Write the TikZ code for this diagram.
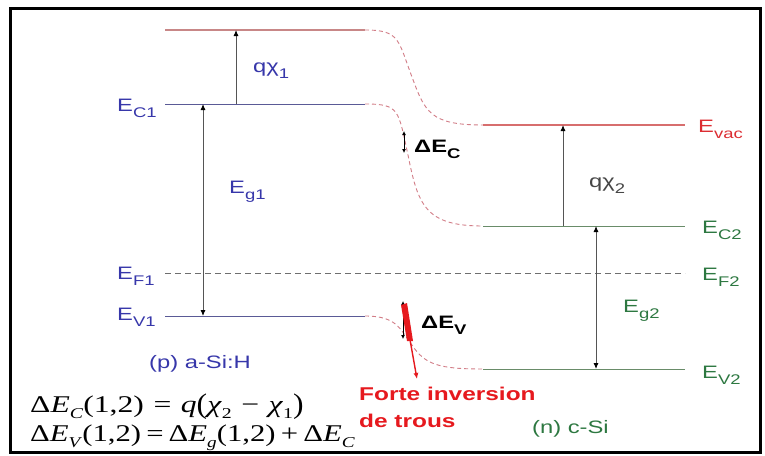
\documentclass[tikz,border=0pt]{standalone}
\usepackage{fontspec}
\usepackage{graphicx}
\setmainfont{Liberation Sans}
\newfontfamily\eqfont{Liberation Serif}
\usetikzlibrary{arrows.meta}
\definecolor{lblblue}{RGB}{55,55,170}
\definecolor{lblgreen}{RGB}{45,120,65}
\definecolor{lblred}{RGB}{220,45,50}
\definecolor{lblgray}{RGB}{70,70,70}
\definecolor{linblue}{RGB}{90,90,150}
\definecolor{lingreen}{RGB}{105,140,105}
\definecolor{linvac1}{RGB}{200,135,135}
\definecolor{linvac2}{RGB}{215,110,110}
\definecolor{curvecol}{RGB}{210,125,135}
\definecolor{fermicol}{RGB}{110,110,110}
\definecolor{arrcol}{RGB}{85,85,85}
\definecolor{hotred}{RGB}{230,25,30}
\newcommand\wide[1]{\scalebox{1.32}[1]{#1}}
\newcommand\sbs[1]{\raisebox{-0.35em}{\fontsize{14}{14}\selectfont #1}}
\newcommand\esb[1]{\raisebox{-0.25em}{\fontsize{15}{15}\selectfont #1}}
\newcommand\bigpar[1]{\raisebox{-0.08em}{\scalebox{1}[1.18]{#1}}}
\newcommand\opsp{\hspace{0.3em}}
\tikzset{
  lbl/.style={inner sep=0pt, anchor=base west, font=\fontsize{18}{20}\selectfont},
  lvlblue/.style={draw=linblue, line width=1pt},
  lvlgreen/.style={draw=lingreen, line width=1pt},
  vacone/.style={draw=linvac1, line width=1.6pt},
  vactwo/.style={draw=linvac2, line width=1.1pt},
  bandcurve/.style={draw=curvecol, dash pattern=on 4pt off 3pt, line width=0.9pt},
  fermi/.style={draw=fermicol, dash pattern=on 6pt off 4pt, line width=1pt},
  arr/.style={draw=arrcol, line width=0.9pt, -{Latex[length=6pt,width=5pt,black]}},
  darr/.style={draw=arrcol, line width=0.9pt, {Latex[length=6pt,width=5pt,black]}-{Latex[length=6pt,width=5pt,black]}},
  sdarr/.style={draw=black, line width=0.9pt, {Latex[length=4pt,width=4pt]}-{Latex[length=4pt,width=4pt]}},
}
\begin{document}
\begin{tikzpicture}[x=1pt,y=-1pt]
\useasboundingbox (0,0) rectangle (765,455);
\fill[white] (0,0) rectangle (765,455);

% level coordinates
\coordinate (vacA) at (165,30);  \coordinate (vacB) at (365,30);
\coordinate (c1A) at (165,104);  \coordinate (c1B) at (365,104);
\coordinate (v1A) at (165,316);  \coordinate (v1B) at (365,316);
\coordinate (vacC) at (483,125); \coordinate (vacD) at (685,125);
\coordinate (c2A) at (483,226);  \coordinate (c2B) at (685,226);
\coordinate (v2A) at (483,369);  \coordinate (v2B) at (685,369);
\coordinate (fA) at (165,273);   \coordinate (fB) at (685,273);

% levels
\draw[vacone] (vacA) -- (vacB);
\draw[lvlblue] (c1A) -- (c1B);
\draw[lvlblue] (v1A) -- (v1B);
\draw[vactwo] (vacC) -- (vacD);
\draw[lvlgreen] (c2A) -- (c2B);
\draw[lvlgreen] (v2A) -- (v2B);
\draw[fermi] (fA) -- (fB);

% band bending
\draw[bandcurve] (vacB) .. controls (400,30) and (398,40) .. (412,77) .. controls (425,112) and (430,125) .. (vacC);
\draw[bandcurve] (c1B) .. controls (400,104) and (398,110) .. (408,155) .. controls (418,205) and (425,226) .. (c2A);
\draw[bandcurve] (v1B) .. controls (398,316) and (400,330) .. (412,345) .. controls (425,365) and (440,369) .. (v2A);

% arrows
\coordinate (qa) at (236,104); \coordinate (qb) at (236,30);
\draw[arr] (qa) -- (qb);
\coordinate (ga) at (203,104); \coordinate (gb) at (203,316);
\draw[darr] (ga) -- (gb);
\coordinate (qc) at (563,226); \coordinate (qd) at (563,125);
\draw[arr] (qc) -- (qd);
\coordinate (gc) at (596,226); \coordinate (gd) at (596,369);
\draw[darr] (gc) -- (gd);
\coordinate (dca) at (404,131); \coordinate (dcb) at (404,153);
\draw[sdarr] (dca) -- (dcb);
\coordinate (dva) at (403,301); \coordinate (dvb) at (403,339);
\draw[sdarr] (dva) -- (dvb);
\fill[hotred] (401,305) -- (407,303) -- (413,341) -- (407,341) -- cycle;
\coordinate (ra) at (404,306); \coordinate (rb) at (417,379);
\draw[hotred, line width=1.4pt, -{Latex[length=6pt,width=5pt]}] (ra) -- (rb);

% labels left
\node[lbl, text=lblblue] (lc1) at (117,111) {\wide{E\sbs{C1}}};
\node[lbl, text=lblblue] (lf1) at (117,279) {\wide{E\sbs{F1}}};
\node[lbl, text=lblblue] (lv1) at (117,320) {\wide{E\sbs{V1}}};
% labels right
\node[lbl, text=lblred] (lvac) at (698,132) {\wide{E\sbs{vac}}};
\node[lbl, text=lblgreen] (lc2) at (702,233) {\wide{E\sbs{C2}}};
\node[lbl, text=lblgreen] (lf2) at (702,280) {\wide{E\sbs{F2}}};
\node[lbl, text=lblgreen] (lv2) at (702,378) {\wide{E\sbs{V2}}};
% inner labels
\node[lbl, text=lblblue] (lq1) at (253,72) {\wide{qχ\sbs{1}}};
\node[lbl, text=lblblue] (lg1) at (229,193) {\wide{E\sbs{g1}}};
\node[lbl, text=lblgray] (lq2) at (589,187) {\wide{qχ\sbs{2}}};
\node[lbl, text=lblgreen] (lg2) at (623,312) {\wide{E\sbs{g2}}};
\node[lbl, text=black, font=\bfseries\fontsize{18}{20}\selectfont] (ldc) at (414,152) {\wide{ΔE\sbs{C}}};
\node[lbl, text=black, font=\bfseries\fontsize{18}{20}\selectfont] (ldv) at (421,328) {\wide{ΔE\sbs{V}}};
\node[lbl, text=lblblue] (lp) at (149,368) {\wide{(p) a-Si:H}};
\node[lbl, text=lblgreen] (ln) at (532,433) {\wide{(n) c-Si}};
\node[lbl, text=hotred, font=\bfseries\fontsize{18.5}{20}\selectfont] (lfo) at (359,400) {\wide{Forte inversion}};
\node[lbl, text=hotred, font=\bfseries\fontsize{18.5}{20}\selectfont] (ltr) at (359,427) {\wide{de trous}};

% equations
\begin{scope}
\clip (11,9) rectangle (759,451);
\node[lbl, font=\eqfont\fontsize{24}{26}\selectfont] (eq1) at (30,412)
  {\scalebox{1.32}[1]{Δ\textit{E}\esb{\textit{C}}(1,2)\opsp=\opsp\textit{q}\bigpar{(}\textit{χ}\esb{2}\opsp−\opsp\textit{χ}\esb{1}\bigpar{)}}};
\node[lbl, font=\eqfont\fontsize{24}{26}\selectfont] (eq2) at (30,441)
  {\scalebox{1.28}[1]{Δ\textit{E}\esb{\textit{V}}(1,2)\,=\,Δ\textit{E}\esb{\textit{g}}(1,2)\,+\,Δ\textit{E}\esb{\textit{C}}}};
\end{scope}

% frame
\draw[black, line width=3pt] (10,8) rectangle (760,452);
\end{tikzpicture}
\end{document}
